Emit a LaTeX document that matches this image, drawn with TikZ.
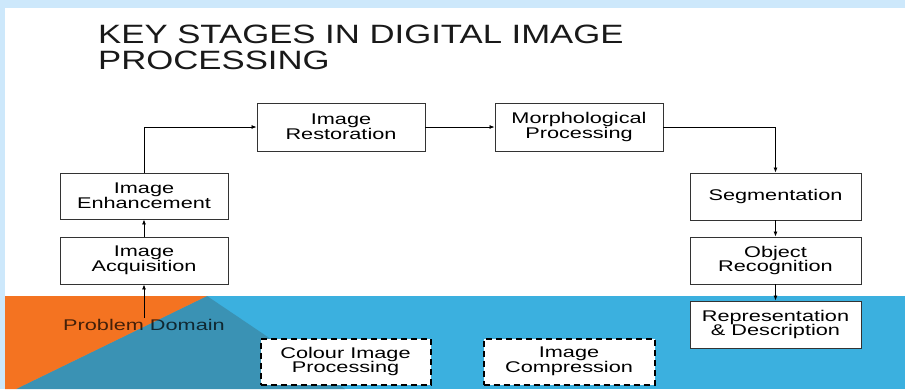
\documentclass[tikz,border=0pt]{standalone}
\usepackage{fontspec}
\usetikzlibrary{arrows.meta}
\newfontfamily\boxfont[FakeStretch=1.4]{Liberation Sans}
\newfontfamily\titlefont[FakeStretch=1.31]{Liberation Sans}
\definecolor{frameblue}{HTML}{CDE8FB}
\definecolor{bandblue}{HTML}{3BB0DF}
\definecolor{bandteal}{HTML}{3A92B4}
\definecolor{bandorange}{HTML}{F47321}
\definecolor{boxline}{HTML}{333333}
\tikzset{
  stagebox/.style={draw=boxline, line width=0.9pt, fill=white, inner sep=0pt,
    align=center, font=\boxfont\fontsize{15.5}{14.8}\selectfont},
  dashbox/.style={draw=black, line width=2pt, dash pattern=on 6pt off 4pt,
    fill=white, inner sep=0pt, align=center,
    font=\boxfont\fontsize{15.5}{14.8}\selectfont},
  titletext/.style={anchor=base west, inner sep=0pt,
    font=\titlefont\fontsize{26.5}{26}\selectfont, text=black!90},
  flow/.style={draw=black, line width=0.8pt, -{Latex[length=5pt,width=4pt]}}
}
\begin{document}
\begin{tikzpicture}[x=1pt,y=-1pt]
\useasboundingbox (0,0) rectangle (905,389);
% background
\fill[frameblue] (0,0) rectangle (905,389);
\fill[white] (5,8) rectangle (905,296);
\fill[bandblue] (5,296) rectangle (905,389);
\fill[bandteal] (207,296) -- (345,389) -- (16,389) -- cycle;
\fill[bandorange] (5,296) -- (207,296) -- (16,389) -- (5,389) -- cycle;
% title
\node[titletext] (title1) at (98,43) {KEY STAGES IN DIGITAL IMAGE};
\node[titletext] (title2) at (98,69) {PROCESSING};
% stages
\node[stagebox, minimum width=168pt, minimum height=47pt] (acq) at (144,260.5) {Image\\Acquisition};
\node[stagebox, minimum width=168pt, minimum height=46pt] (enh) at (144,196) {Image\\Enhancement};
\node[stagebox, minimum width=168pt, minimum height=48pt] (res) at (341,127) {Image\\Restoration};
\node[stagebox, minimum width=168pt, minimum height=48pt] (mor) at (579,127) {Morphological\\Processing};
\node[stagebox, minimum width=171pt, minimum height=47pt] (seg) at (775.5,196.5) {Segmentation};
\node[stagebox, minimum width=171pt, minimum height=47pt] (obj) at (775.5,260.5) {Object\\Recognition};
\node[stagebox, minimum width=171pt, minimum height=47pt] (rep) at (775.5,324.5) {Representation\\\&~Description};
\node[dashbox, minimum width=170pt, minimum height=46pt] (col) at (345.5,361.5) {Colour Image\\Processing};
\node[dashbox, minimum width=171pt, minimum height=46pt] (cmp) at (569,361.5) {Image\\Compression};
\node[inner sep=1pt, font=\boxfont\fontsize{15.5}{14.8}\selectfont, text=black, text opacity=0.72] (pd) at (144,325) {Problem Domain};
% connectors
\draw[flow] (pd.north) -- (acq.south);
\draw[flow] (acq.north) -- (enh.south);
\draw[flow] (enh.north) |- (res.west);
\draw[flow] (res.east) -- (mor.west);
\draw[flow] (mor.east) -| (seg.north);
\draw[flow] (seg.south) -- (obj.north);
\draw[flow] (obj.south) -- (rep.north);
\end{tikzpicture}
\end{document}
